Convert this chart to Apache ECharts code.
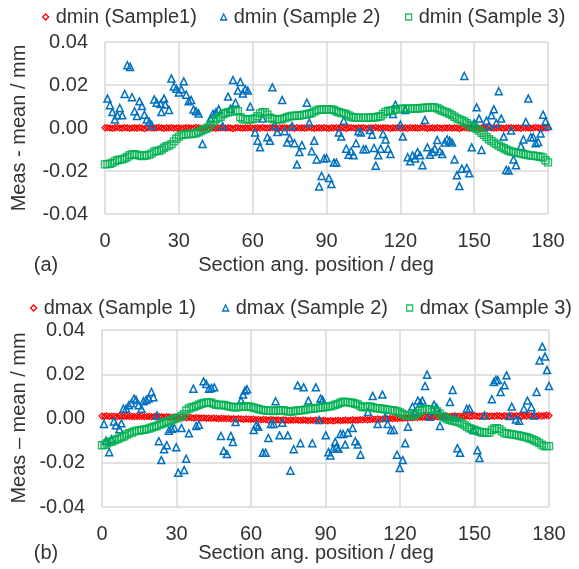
<!DOCTYPE html>
<html>
<head>
<meta charset="utf-8">
<script src="https://cdn.jsdelivr.net/npm/echarts@6/dist/echarts.min.js"></script>
<style>
html,body{margin:0;padding:0;background:#fff;}
#chart{width:579px;height:569px;}
</style>
</head>
<body>
<div id="chart"></div>
<script>
// ---------- tick labels / axis ----------
const xTicks = [0, 30, 60, 90, 120, 150, 180];
const yTicks = [-0.04, -0.02, 0.00, 0.02, 0.04];

// ---------- series names ----------
const namesA = ['dmin (Sample1)', 'dmin (Sample 2)', 'dmin (Sample 3)'];
const namesB = ['dmax (Sample 1)', 'dmax (Sample 2)', 'dmax (Sample 3)'];

// positions for sample 1 and sample 3 (one point per degree)
const degrees = Array.from({length: 181}, (_, i) => i);

// ---------- panel (a) ----------
const dminS1 = [
0.0001,0.0002,0.0000,-0.0002,0.0001,0.0003,0.0000,-0.0001,0.0002,0.0001,
-0.0002,0.0000,0.0001,-0.0001,0.0002,0.0000,-0.0003,0.0001,0.0002,0.0000,
-0.0001,0.0001,0.0003,0.0000,-0.0002,0.0001,0.0000,0.0002,-0.0001,0.0000,
0.0001,-0.0002,0.0000,0.0002,0.0001,-0.0001,0.0000,0.0003,0.0001,-0.0002,
0.0000,0.0001,-0.0001,0.0002,0.0000,-0.0002,0.0001,0.0000,0.0002,-0.0001,
0.0001,0.0000,-0.0003,0.0001,0.0002,0.0000,-0.0001,0.0001,0.0000,0.0002,
-0.0002,0.0000,0.0001,-0.0001,0.0003,0.0000,-0.0001,0.0001,0.0002,0.0000,
-0.0002,0.0001,0.0000,0.0002,-0.0001,0.0000,0.0001,-0.0002,0.0002,0.0000,
0.0001,-0.0001,0.0000,0.0003,0.0001,-0.0002,0.0000,0.0001,-0.0001,0.0002,
0.0000,-0.0002,0.0001,0.0000,0.0002,-0.0001,0.0001,0.0000,-0.0003,0.0001,
0.0002,0.0000,-0.0001,0.0001,0.0000,0.0002,-0.0002,0.0000,0.0001,-0.0001,
0.0003,0.0000,-0.0001,0.0001,0.0002,0.0000,-0.0002,0.0001,0.0000,0.0002,
-0.0001,0.0000,0.0001,-0.0002,0.0002,0.0000,0.0001,-0.0001,0.0000,0.0003,
0.0001,-0.0002,0.0000,0.0001,-0.0001,0.0002,0.0000,-0.0002,0.0001,0.0000,
0.0002,-0.0001,0.0001,0.0000,-0.0003,0.0001,0.0002,0.0000,-0.0001,0.0001,
0.0000,0.0002,-0.0002,0.0000,0.0001,-0.0001,0.0003,0.0000,-0.0001,0.0001,
0.0002,0.0000,-0.0002,0.0001,0.0000,0.0002,-0.0001,0.0000,0.0001,-0.0002,
0.0002,0.0000,0.0001,-0.0001,0.0000,0.0003,0.0001,-0.0002,0.0000,0.0001,
0.0000];

const dminS2x = [1,2,3,4,5,6,7,8,9.1,10.2,11,12,13,14,15,16,17,18,19,20,21,22.6,22.9,24,24.5,26,27,28,29,30,31,32,33,34,35,36,37,38,39.6,42.9,43.9,45.1,46.2,47.8,
50,51,52,53,54,55,56,57,58,59,61,62,63,64,66,67,68,69,70,72,73,74,75,76,77,78,79,80,82,83,84,85,86,87,88,89,90,91,92,93,94,95,96,97,98,99,
100,101,102,103,104,105,106,107.7,108.5,109.3,110,111,112,113,114,115,116,117,118,120,121,122,123,124,125,126,127,128,129,130,131,132,133,134,135,136,137,138,139,140,141,142,143,144,145,146,147,148,149,
150,151,152,153,155,156,157,158,159,160,161,162,163,164,165,166,167,169,170,171,172,173,174,175,176,177,178,179,180];
const dminS2y = [0.0137,0.0106,0.0074,0.0040,0.0059,0.0093,0.0059,0.0158,0.0292,0.0284,0.0143,0.0078,0.0056,0.0124,0.0102,0.0062,0.0040,0.0028,0.0013,0.0133,0.0118,0.0112,0.0074,0.0137,0.0109,0.0084,0.0230,0.0193,0.0183,0.0165,0.0180,0.0217,0.0155,0.0124,0.0130,0.0086,0.0078,0.0068,-0.0074,0.0044,0.0065,0.0074,0.0087,0.0009,
0.0146,0.0090,0.0223,0.0118,0.0174,0.0214,0.0161,0.0180,0.0174,0.0100,-0.0021,-0.0059,-0.0090,0.0044,-0.0043,-0.0059,0.0189,0.0013,-0.0019,0.0130,-0.0015,-0.0068,-0.0047,0.0009,-0.0071,-0.0170,-0.0112,-0.0080,0.0118,0.0025,-0.0108,-0.0059,-0.0146,-0.0272,-0.0223,-0.0142,-0.0140,-0.0233,-0.0260,-0.0161,-0.0161,-0.0021,-0.0040,0.0034,-0.0096,-0.0124,
-0.0108,-0.0127,-0.0071,-0.0015,-0.0021,-0.0099,-0.0099,-0.0009,-0.0031,-0.0093,-0.0175,-0.0127,-0.0096,-0.0028,-0.0053,-0.0096,-0.0121,0.0065,0.0109,0.0016,-0.0040,0.0084,-0.0136,-0.0155,-0.0127,-0.0142,-0.0112,-0.0127,-0.0173,0.0037,-0.0090,-0.0124,-0.0112,-0.0096,-0.0056,-0.0108,-0.0121,-0.0068,-0.0053,-0.0059,-0.0068,-0.0146,-0.0220,-0.0270,-0.0189,0.0242,-0.0186,-0.0211,-0.0090,
0.0022,0.0096,0.0044,-0.0102,0.0034,0.0009,0.0059,0.0087,0.0022,0.0171,0.0044,-0.0040,-0.0195,-0.0198,-0.0012,-0.0146,-0.0173,-0.0084,-0.0053,0.0028,0.0137,-0.0043,-0.0043,-0.0071,-0.0065,-0.0025,0.0062,0.0031,0.0009];

const dminS3 = [
-0.0169,-0.0168,-0.0166,-0.0162,
-0.0155,-0.0150,-0.0147,-0.0146,-0.0142,-0.0135,
-0.0127,-0.0123,-0.0122,-0.0125,
-0.0128,-0.0130,-0.0129,-0.0127,-0.0124,-0.0118,
-0.0110,-0.0107,-0.0106,-0.0100,
-0.0092,-0.0085,-0.0082,-0.0075,
-0.0062,-0.0050,-0.0040,-0.0033,
-0.0030,-0.0029,-0.0028,-0.0028,-0.0027,-0.0024,-0.0020,
-0.0014,-0.0008,-0.0004,0.0002,
0.0015,0.0030,0.0040,0.0046,0.0052,
0.0064,0.0070,0.0073,0.0076,0.0079,0.0080,0.0078,
0.0050,0.0042,0.0040,0.0040,0.0041,0.0042,0.0045,0.0055,
0.0068,0.0074,0.0073,0.0062,
0.0048,0.0043,0.0041,0.0040,0.0040,0.0042,0.0046,0.0050,
0.0054,0.0056,0.0057,0.0057,0.0058,0.0060,0.0062,0.0064,0.0066,0.0070,
0.0076,0.0082,0.0085,0.0086,0.0086,0.0087,0.0087,0.0086,0.0084,
0.0078,0.0073,0.0070,0.0068,0.0064,0.0058,
0.0052,0.0049,0.0048,0.0048,0.0047,0.0047,0.0048,0.0048,0.0048,0.0049,0.0050,0.0052,0.0055,
0.0065,0.0075,0.0079,0.0080,0.0082,0.0086,
0.0088,0.0089,0.0090,0.0090,0.0090,0.0090,0.0090,0.0091,0.0091,0.0092,0.0093,0.0094,
0.0095,0.0096,0.0097,0.0096,0.0092,
0.0086,0.0080,0.0076,0.0072,0.0066,0.0060,
0.0052,0.0044,0.0040,0.0035,0.0030,
0.0022,0.0014,0.0008,0.0002,-0.0004,-0.0012,
-0.0022,-0.0032,-0.0042,-0.0052,-0.0060,
-0.0068,-0.0075,-0.0082,-0.0088,-0.0094,-0.0100,
-0.0106,-0.0109,-0.0112,-0.0115,-0.0117,-0.0119,-0.0121,-0.0123,
-0.0126,-0.0128,-0.0129,-0.0130,-0.0132,-0.0134,-0.0138,
-0.0150,-0.0160];

// ---------- panel (b) ----------
const dmaxS1 = [
0.0011,0.0010,0.0012,0.0009,0.0011,0.0010,0.0008,0.0011,0.0010,0.0009,
0.0011,0.0009,0.0010,0.0008,0.0010,0.0009,0.0011,0.0008,0.0009,0.0010,
0.0008,0.0009,0.0007,0.0009,0.0008,0.0006,0.0008,0.0007,0.0005,0.0007,
0.0006,0.0004,0.0006,0.0005,0.0003,0.0005,0.0004,0.0002,0.0004,0.0003,
0.0002,0.0003,0.0001,0.0002,0.0000,0.0002,0.0001,-0.0001,0.0001,0.0000,
-0.0001,0.0000,-0.0002,-0.0001,-0.0003,-0.0001,-0.0002,-0.0004,-0.0002,-0.0003,
-0.0004,-0.0003,-0.0005,-0.0004,-0.0006,-0.0004,-0.0005,-0.0007,-0.0005,-0.0006,
-0.0007,-0.0006,-0.0008,-0.0006,-0.0007,-0.0009,-0.0007,-0.0008,-0.0006,-0.0008,
-0.0009,-0.0007,-0.0008,-0.0010,-0.0008,-0.0009,-0.0007,-0.0009,-0.0010,-0.0008,
-0.0010,-0.0011,-0.0009,-0.0011,-0.0010,-0.0008,-0.0010,-0.0009,-0.0007,-0.0009,
-0.0008,-0.0006,-0.0008,-0.0007,-0.0005,-0.0006,-0.0004,-0.0006,-0.0005,-0.0003,
-0.0004,-0.0002,-0.0004,-0.0003,-0.0001,-0.0002,0.0000,-0.0001,0.0001,0.0000,
0.0002,0.0001,0.0003,0.0002,0.0004,0.0003,0.0005,0.0004,0.0006,0.0005,
0.0007,0.0006,0.0008,0.0007,0.0009,0.0008,0.0010,0.0008,0.0009,0.0011,
0.0009,0.0010,0.0012,0.0010,0.0011,0.0009,0.0011,0.0012,0.0010,0.0011,
0.0013,0.0011,0.0010,0.0012,0.0011,0.0013,0.0010,0.0012,0.0011,0.0013,
0.0012,0.0010,0.0013,0.0011,0.0012,0.0014,0.0011,0.0013,0.0012,0.0010,
0.0013,0.0011,0.0014,0.0012,0.0013,0.0011,0.0014,0.0012,0.0013,0.0015,
0.0013];

const dmaxS2x = [0.8,1.6,2.9,3.8,4.8,5.6,7,7.8,8.6,9.7,10.8,11.8,12.9,13.7,14.8,15.9,16.7,17.8,18.8,19.9,20.7,22.1,22.9,23.9,25,26.1,26.9,28,29.1,29.9,30.7,32,33.1,33.9,35,36.8,37.9,39,
40.9,42,43.1,44.1,45.2,47.9,49,50.3,51.9,52.7,53.8,56,56.8,57.6,58.4,61.1,62.1,62.9,64.8,65.9,67,68.1,69.1,69.9,71.5,72.6,74.8,75.9,77.2,78.8,79.9,81.2,83.1,84.7,86.1,87.4,88,88.8,
90.1,91.2,92,93.1,93.9,94.4,95.2,96,97.1,97.9,99,100.9,102,103,104.1,107.1,109,111,112.9,114,115,116.4,117.5,118.8,119.9,121.1,122.1,123.2,125,126.1,127.2,128.2,129,130.1,130.9,132,133.7,134.8,136.1,138.3,
140.1,141.2,142.3,143.1,144.2,146.9,148,149.6,151.2,152,154,157,157.8,158.6,159.4,160.5,162.1,162.9,164,165,166.7,168,169.9,171.3,172.9,174,175,176.2,177.3,178.4,179.2,180];
const dmaxS2y = [-0.0025,-0.0100,-0.0152,-0.0094,-0.0013,-0.0031,-0.0049,-0.0022,0.0044,0.0044,0.0060,0.0069,0.0090,0.0084,0.0060,0.0044,0.0078,0.0084,0.0090,0.0120,0.0096,0.0014,-0.0103,-0.0188,-0.0139,-0.0121,-0.0055,-0.0046,-0.0043,-0.0130,-0.0245,-0.0043,-0.0233,-0.0182,-0.0067,0.0135,-0.0034,-0.0028,
0.0168,0.0156,0.0135,0.0138,0.0141,-0.0079,-0.0146,-0.0161,-0.0079,-0.0106,-0.0016,0.0081,0.0108,0.0126,0.0132,-0.0052,-0.0031,-0.0037,-0.0155,-0.0155,-0.0088,-0.0025,-0.0025,0.0078,-0.0076,-0.0019,-0.0076,-0.0236,-0.0139,0.0150,-0.0112,0.0141,0.0081,-0.0112,0.0141,-0.0007,0.0090,0.0084,
-0.0076,-0.0152,-0.0167,-0.0137,-0.0106,-0.0130,-0.0137,-0.0070,-0.0070,-0.0118,-0.0064,-0.0043,-0.0103,-0.0118,-0.0164,0.0029,0.0102,-0.0025,0.0108,0.0005,-0.0025,-0.0052,-0.0052,-0.0164,-0.0224,-0.0188,-0.0112,-0.0037,0.0054,0.0029,0.0081,0.0069,0.0081,0.0147,0.0198,0.0008,0.0063,0.0048,-0.0034,0.0008,
0.0075,0.0129,0.0005,-0.0134,-0.0155,0.0044,0.0044,-0.0052,-0.0143,-0.0179,0.0014,0.0087,0.0165,0.0174,0.0174,0.0120,0.0150,0.0195,0.0011,0.0054,-0.0004,-0.0010,0.0044,0.0081,0.0051,0.0014,0.0120,0.0262,0.0325,0.0280,0.0219,0.0147];

const dmaxS3 = [
-0.0121,-0.0119,-0.0112,-0.0106,-0.0104,
-0.0098,-0.0094,-0.0090,-0.0084,-0.0080,
-0.0072,-0.0067,-0.0063,-0.0058,-0.0055,
-0.0054,-0.0052,-0.0051,-0.0048,-0.0045,
-0.0041,-0.0037,-0.0034,-0.0029,-0.0025,
-0.0020,-0.0016,-0.0011,-0.0007,-0.0003,
0.0001,0.0004,0.0012,0.0020,0.0036,
0.0045,0.0050,0.0053,0.0057,0.0062,
0.0067,0.0070,0.0072,0.0073,0.0071,
0.0066,0.0062,0.0061,0.0061,0.0061,
0.0058,0.0055,0.0053,0.0051,0.0051,
0.0052,0.0054,0.0054,0.0055,0.0054,
0.0052,0.0049,0.0046,0.0043,0.0040,
0.0038,0.0036,0.0035,0.0035,0.0034,
0.0035,0.0036,0.0038,0.0037,0.0034,
0.0032,0.0031,0.0033,0.0035,0.0036,
0.0037,0.0038,0.0041,0.0043,0.0044,
0.0045,0.0046,0.0048,0.0050,0.0051,
0.0052,0.0054,0.0055,0.0058,0.0062,
0.0066,0.0071,0.0076,0.0075,0.0073,
0.0072,0.0070,0.0067,0.0063,0.0056,
0.0051,0.0052,0.0054,0.0054,0.0051,
0.0047,0.0046,0.0045,0.0044,0.0042,
0.0040,0.0038,0.0037,0.0035,0.0032,
0.0027,0.0021,0.0016,0.0012,0.0011,
0.0013,0.0018,0.0024,0.0034,0.0041,
0.0043,0.0042,0.0042,0.0040,0.0037,
0.0032,0.0022,0.0010,0.0004,-0.0002,
-0.0006,-0.0009,-0.0012,-0.0014,-0.0018,
-0.0023,-0.0030,-0.0038,-0.0044,-0.0048,
-0.0052,-0.0056,-0.0060,-0.0063,-0.0064,
-0.0065,-0.0064,-0.0052,-0.0045,-0.0044,
-0.0048,-0.0058,-0.0066,-0.0068,-0.0070,
-0.0071,-0.0073,-0.0075,-0.0077,-0.0080,
-0.0082,-0.0085,-0.0089,-0.0093,-0.0098,
-0.0104,-0.0110,-0.0118,-0.0124,-0.0125,-0.0125];

// ---------- build ----------
const zip = (xs, ys) => xs.map((x, i) => [x, ys[i]]);
const FONT = 'Liberation Sans, Arial, sans-serif';
const FS = 20;
const TXT = '#333333';
const colors = ['#FF0000', '#0070C0', '#00B050'];
const symbols = ['diamond', 'triangle', 'rect'];
const sizes = [6, 7, 7];
const widths = [1.2, 1.5, 1.4];

function mkSeries(name, data, k, idx) {
  return {
    name: name, type: 'scatter', xAxisIndex: idx, yAxisIndex: idx,
    data: data, symbol: symbols[k], symbolSize: sizes[k],
    itemStyle: {color: 'rgba(255,255,255,0)', borderColor: colors[k], borderWidth: widths[k], opacity: k === 2 ? 0.85 : 1},
    emphasis: {disabled: true}, animation: false, z: 2 + k
  };
}

function xAx(idx) {
  return {
    type: 'value', gridIndex: idx, min: xTicks[0], max: xTicks[xTicks.length - 1], interval: 30,
    axisLine: {show: false}, axisTick: {show: false},
    axisLabel: {fontFamily: FONT, fontSize: FS, color: TXT, margin: 17},
    splitLine: {show: true, lineStyle: {color: '#D9D9D9', width: 1.5}}
  };
}
function yAx(idx) {
  return {
    type: 'value', gridIndex: idx, min: yTicks[0], max: yTicks[yTicks.length - 1], interval: 0.02,
    axisLine: {show: false}, axisTick: {show: false},
    axisLabel: {fontFamily: FONT, fontSize: FS, color: TXT, margin: 17, formatter: v => v.toFixed(2)},
    splitLine: {show: true, lineStyle: {color: '#D9D9D9', width: 1.5}}
  };
}
function legend(name, left, top, k) {
  return {
    data: [{name: name, icon: symbols[k],
      itemStyle: {color: 'rgba(255,255,255,0)', borderColor: colors[k], borderWidth: 1.3}}],
    left: left, top: top, itemWidth: 6, itemHeight: 6, padding: 0,
    textStyle: {fontFamily: FONT, fontSize: FS, color: TXT, padding: [0, 0, 0, 2]},
    selectedMode: false
  };
}

const chart = echarts.init(document.getElementById('chart'), null, {renderer: 'canvas'});
chart.setOption({
  animation: false,
  backgroundColor: '#fff',
  grid: [
    {left: 105, top: 42, width: 443, height: 172},
    {left: 102, top: 330, width: 447, height: 177}
  ],
  xAxis: [xAx(0), xAx(1)],
  yAxis: [yAx(0), yAx(1)],
  legend: [
    legend(namesA[0], 42, 7, 0), legend(namesA[1], 220, 7, 1), legend(namesA[2], 405, 7, 2),
    legend(namesB[0], 30, 298, 0), legend(namesB[1], 222, 298, 1), legend(namesB[2], 406, 298, 2)
  ],
  graphic: [
    {type: 'text', x: 19, y: 128, rotation: Math.PI / 2,
      style: {text: 'Meas - mean / mm', font: FS + 'px ' + FONT, fill: TXT, align: 'center', verticalAlign: 'middle'}},
    {type: 'text', x: 19, y: 418, rotation: Math.PI / 2,
      style: {text: 'Meas \u2013 mean / mm', font: FS + 'px ' + FONT, fill: TXT, align: 'center', verticalAlign: 'middle'}},
    {type: 'text', x: 316, y: 265,
      style: {text: 'Section ang. position / deg', font: FS + 'px ' + FONT, fill: TXT, align: 'center', verticalAlign: 'middle'}},
    {type: 'text', x: 316, y: 553,
      style: {text: 'Section ang. position / deg', font: FS + 'px ' + FONT, fill: TXT, align: 'center', verticalAlign: 'middle'}},
    {type: 'text', x: 46, y: 265,
      style: {text: '(a)', font: FS + 'px ' + FONT, fill: TXT, align: 'center', verticalAlign: 'middle'}},
    {type: 'text', x: 46, y: 553,
      style: {text: '(b)', font: FS + 'px ' + FONT, fill: TXT, align: 'center', verticalAlign: 'middle'}}
  ],
  series: [
    mkSeries(namesA[0], zip(degrees, dminS1), 0, 0),
    mkSeries(namesA[1], zip(dminS2x, dminS2y), 1, 0),
    mkSeries(namesA[2], zip(degrees, dminS3), 2, 0),
    mkSeries(namesB[0], zip(degrees, dmaxS1), 0, 1),
    mkSeries(namesB[1], zip(dmaxS2x, dmaxS2y), 1, 1),
    mkSeries(namesB[2], zip(degrees, dmaxS3), 2, 1)
  ]
});
</script>
</body>
</html>
